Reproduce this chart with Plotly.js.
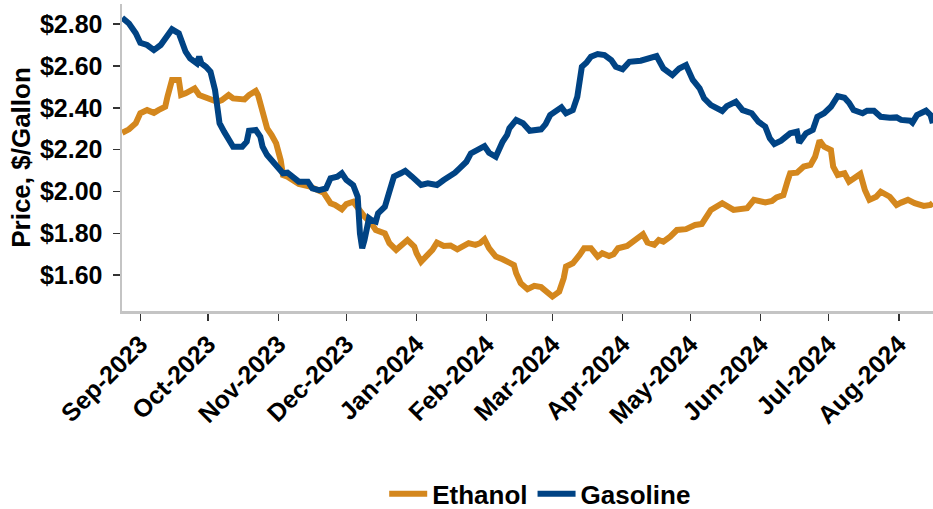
<!DOCTYPE html>
<html>
<head>
<meta charset="utf-8">
<script src="https://cdn.plot.ly/plotly-3.0.1.min.js"></script>
<style>
  html, body { margin: 0; padding: 0; background: #fff; }
  #chart { width: 933px; height: 509px; }
</style>
</head>
<body>
<div id="chart"></div>
<script>
const gasolineDates = [
  '2023-08-24','2023-08-27','2023-08-30','2023-09-01','2023-09-04','2023-09-07','2023-09-10','2023-09-13','2023-09-15','2023-09-18',
  '2023-09-19','2023-09-21','2023-09-23','2023-09-26','2023-09-27','2023-09-28','2023-09-30','2023-10-02','2023-10-04','2023-10-05',
  '2023-10-06','2023-10-08','2023-10-10','2023-10-12','2023-10-16','2023-10-18','2023-10-19','2023-10-22','2023-10-24','2023-10-25',
  '2023-10-27','2023-10-29','2023-11-01','2023-11-03','2023-11-05','2023-11-08','2023-11-10','2023-11-14','2023-11-16','2023-11-19',
  '2023-11-22','2023-11-24','2023-11-27','2023-11-29','2023-12-01','2023-12-04','2023-12-06','2023-12-07','2023-12-08','2023-12-09',
  '2023-12-11','2023-12-12','2023-12-14','2023-12-15','2023-12-18','2023-12-20','2023-12-22','2023-12-25','2023-12-27','2023-12-30',
  '2024-01-01','2024-01-03','2024-01-06','2024-01-10','2024-01-13','2024-01-16','2024-01-18','2024-01-20','2024-01-23','2024-01-25',
  '2024-01-28','2024-01-31','2024-02-02','2024-02-05','2024-02-08','2024-02-10','2024-02-11','2024-02-14','2024-02-17','2024-02-20',
  '2024-02-25','2024-02-27','2024-02-29','2024-03-02','2024-03-05','2024-03-07','2024-03-10','2024-03-12','2024-03-14','2024-03-16',
  '2024-03-18','2024-03-21','2024-03-24','2024-03-27','2024-03-29','2024-04-01','2024-04-04','2024-04-09','2024-04-12','2024-04-16',
  '2024-04-19','2024-04-23','2024-04-26','2024-04-29','2024-05-02','2024-05-05','2024-05-07','2024-05-10','2024-05-15','2024-05-17',
  '2024-05-21','2024-05-24','2024-05-28','2024-05-31','2024-06-03','2024-06-05','2024-06-07','2024-06-10','2024-06-14','2024-06-17',
  '2024-06-18','2024-06-21','2024-06-24','2024-06-26','2024-06-29','2024-07-02','2024-07-05','2024-07-08','2024-07-10','2024-07-12',
  '2024-07-16','2024-07-18','2024-07-21','2024-07-24','2024-07-28','2024-07-31','2024-08-02','2024-08-06','2024-08-07','2024-08-09',
  '2024-08-13','2024-08-15','2024-08-16'
];
const gasolinePrices = [
  2.830,2.803,2.756,2.711,2.700,2.676,2.700,2.747,2.775,2.756,
  2.724,2.668,2.636,2.612,2.644,2.612,2.596,2.572,2.485,2.389,
  2.326,2.286,2.246,2.214,2.214,2.238,2.290,2.294,2.262,2.214,
  2.174,2.150,2.111,2.087,2.090,2.063,2.047,2.047,2.015,2.007,
  2.015,2.063,2.071,2.087,2.055,2.031,1.975,1.800,1.729,1.768,
  1.872,1.864,1.856,1.896,1.927,1.999,2.071,2.087,2.099,2.071,
  2.047,2.031,2.039,2.031,2.055,2.075,2.090,2.111,2.142,2.182,
  2.198,2.217,2.185,2.166,2.238,2.270,2.302,2.342,2.326,2.290,
  2.297,2.322,2.365,2.381,2.402,2.374,2.389,2.453,2.596,2.615,
  2.644,2.657,2.652,2.628,2.596,2.584,2.620,2.625,2.636,2.647,
  2.588,2.556,2.588,2.604,2.533,2.493,2.445,2.413,2.385,2.408,
  2.429,2.389,2.374,2.333,2.310,2.254,2.227,2.243,2.278,2.286,
  2.233,2.278,2.294,2.357,2.374,2.405,2.456,2.448,2.424,2.389,
  2.374,2.386,2.386,2.357,2.352,2.354,2.342,2.338,2.329,2.365,
  2.386,2.365,2.326
];
const ethanolDates = [
  '2023-08-24','2023-08-27','2023-08-30','2023-09-01','2023-09-04','2023-09-07','2023-09-09','2023-09-12','2023-09-13','2023-09-15',
  '2023-09-18','2023-09-19','2023-09-21','2023-09-25','2023-09-27','2023-10-01','2023-10-05','2023-10-07','2023-10-10','2023-10-12',
  '2023-10-17','2023-10-19','2023-10-22','2023-10-23','2023-10-25','2023-10-27','2023-10-29','2023-10-31','2023-11-02','2023-11-03',
  '2023-11-05','2023-11-08','2023-11-10','2023-11-15','2023-11-18','2023-11-21','2023-11-24','2023-11-26','2023-11-29','2023-12-01',
  '2023-12-04','2023-12-06','2023-12-09','2023-12-12','2023-12-14','2023-12-18','2023-12-20','2023-12-23','2023-12-25','2023-12-28',
  '2023-12-31','2024-01-01','2024-01-03','2024-01-05','2024-01-08','2024-01-10','2024-01-13','2024-01-16','2024-01-19','2024-01-24',
  '2024-01-27','2024-01-29','2024-01-31','2024-02-02','2024-02-05','2024-02-08','2024-02-10','2024-02-13','2024-02-14','2024-02-16',
  '2024-02-19','2024-02-22','2024-02-25','2024-02-28','2024-03-01','2024-03-04','2024-03-06','2024-03-07','2024-03-10','2024-03-13',
  '2024-03-15','2024-03-18','2024-03-21','2024-03-23','2024-03-26','2024-03-28','2024-03-30','2024-04-03','2024-04-06','2024-04-10',
  '2024-04-12','2024-04-15','2024-04-17','2024-04-19','2024-04-22','2024-04-25','2024-04-29','2024-05-03','2024-05-06','2024-05-10',
  '2024-05-15','2024-05-20','2024-05-26','2024-05-29','2024-06-03','2024-06-06','2024-06-08','2024-06-11','2024-06-13','2024-06-14',
  '2024-06-17','2024-06-20','2024-06-23','2024-06-25','2024-06-27','2024-06-29','2024-07-02','2024-07-03','2024-07-05','2024-07-08',
  '2024-07-10','2024-07-13','2024-07-15','2024-07-17','2024-07-19','2024-07-22','2024-07-24','2024-07-28','2024-07-31','2024-08-02',
  '2024-08-05','2024-08-08','2024-08-12','2024-08-15','2024-08-16'
];
const ethanolPrices = [
  2.281,2.297,2.326,2.374,2.389,2.376,2.389,2.405,2.453,2.533,
  2.533,2.461,2.469,2.493,2.461,2.445,2.429,2.437,2.461,2.445,
  2.440,2.461,2.481,2.461,2.389,2.302,2.270,2.230,2.150,2.079,
  2.071,2.047,2.036,2.023,2.007,1.994,1.944,1.936,1.915,1.940,
  1.951,1.920,1.880,1.848,1.816,1.800,1.753,1.721,1.737,1.768,
  1.737,1.705,1.665,1.689,1.721,1.756,1.740,1.742,1.724,1.753,
  1.745,1.753,1.772,1.729,1.689,1.676,1.665,1.649,1.609,1.562,
  1.533,1.549,1.543,1.514,1.498,1.522,1.586,1.641,1.657,1.697,
  1.729,1.729,1.689,1.705,1.692,1.700,1.729,1.740,1.768,1.796,
  1.756,1.745,1.768,1.760,1.784,1.816,1.820,1.840,1.845,1.912,
  1.944,1.912,1.920,1.960,1.948,1.955,1.972,1.983,2.055,2.087,
  2.090,2.119,2.127,2.166,2.243,2.214,2.198,2.119,2.079,2.087,
  2.047,2.071,2.084,2.007,1.960,1.975,1.999,1.975,1.936,1.947,
  1.960,1.944,1.931,1.936,1.945
];
const xTickVals = ['2023-09-01','2023-10-01','2023-11-01','2023-12-01','2024-01-01','2024-02-01',
  '2024-03-01','2024-04-01','2024-05-01','2024-06-01','2024-07-01','2024-08-01'];
const xTickText = ['Sep-2023','Oct-2023','Nov-2023','Dec-2023','Jan-2024','Feb-2024',
  'Mar-2024','Apr-2024','May-2024','Jun-2024','Jul-2024','Aug-2024'];
const yTickVals = [1.6, 1.8, 2.0, 2.2, 2.4, 2.6, 2.8];
const seriesNames = ['Ethanol', 'Gasoline'];

const FONT = 'Liberation Sans, Arial, Helvetica, sans-serif';
const traces = [
  { x: ethanolDates, y: ethanolPrices, name: seriesNames[0], type: 'scatter', mode: 'lines',
    line: { color: '#D4871D', width: 6 } },
  { x: gasolineDates, y: gasolinePrices, name: seriesNames[1], type: 'scatter', mode: 'lines',
    line: { color: '#004384', width: 6 } }
];
const layout = {
  width: 933, height: 509,
  margin: { l: 122, r: 0, t: 4, b: 198 },
  paper_bgcolor: '#ffffff', plot_bgcolor: '#ffffff',
  font: { family: FONT, color: '#000', weight: 700 },
  showlegend: true,
  legend: { orientation: 'h', xref: 'container', yref: 'container',
    x: 0.579, xanchor: 'center', y: 0.03, yanchor: 'middle',
    font: { family: FONT, size: 26, weight: 700, color: '#000' }, itemwidth: 38 },
  xaxis: {
    type: 'date', range: ['2023-08-23 22:00', '2024-08-16 02:00'], automargin: false,
    tickvals: xTickVals, ticktext: xTickText, tickangle: -45,
    tickfont: { family: FONT, size: 25, weight: 700, color: '#000' },
    ticklabelstandoff: -1,
    showgrid: false, zeroline: false,
    showline: true, linecolor: '#C4C4C4', linewidth: 2.5,
    ticks: 'outside', ticklen: 7, tickwidth: 1.5, tickcolor: '#333'
  },
  yaxis: {
    range: [1.429, 2.896], automargin: false, tickvals: yTickVals, tickformat: '$.2f',
    tickfont: { family: FONT, size: 25, weight: 700, color: '#000' },
    ticklabelstandoff: 5,
    showgrid: false, zeroline: false,
    showline: true, linecolor: '#C4C4C4', linewidth: 2.5,
    ticks: 'outside', ticklen: 7, tickwidth: 1.5, tickcolor: '#333',
    title: { text: 'Price, $/Gallon', font: { family: FONT, size: 26, weight: 700, color: '#000' }, standoff: 2 }
  }
};
Plotly.newPlot('chart', traces, layout, { displayModeBar: false, staticPlot: true });
</script>
</body>
</html>
